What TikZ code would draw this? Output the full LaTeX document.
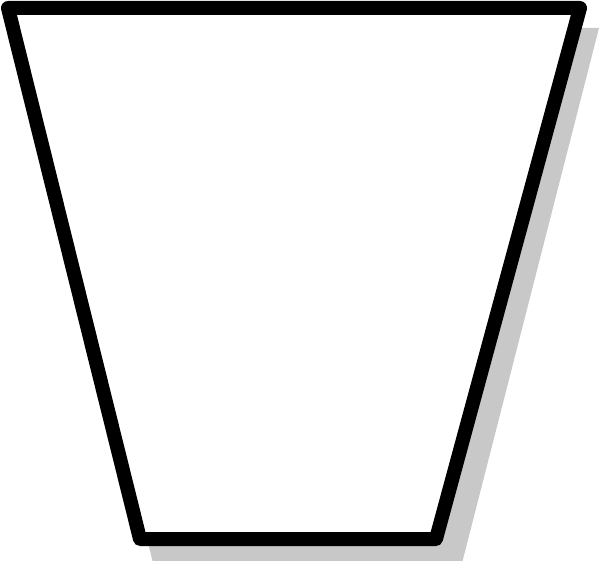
\documentclass[tikz,border=0pt]{standalone}
\definecolor{shadowgray}{RGB}{200,200,200}
\tikzset{
  shadowshape/.style={fill=shadowgray, draw=none},
  mainshape/.style={draw=black, fill=white, line width=14pt, line join=round}
}
\begin{document}
\begin{tikzpicture}[x=1pt,y=-1pt]
\useasboundingbox (0,0) rectangle (600,561);
\begin{scope}
\clip (0,0) rectangle (600,561);
\fill[shadowgray] (21,28) -- (599,28) -- (459.5,573) -- (155.5,573) -- cycle;
\end{scope}
\coordinate (tl) at (8,8);
\coordinate (tr) at (580,8);
\coordinate (br) at (436,539);
\coordinate (bl) at (140,539);
\draw[mainshape] (tl) -- (tr) -- (br) -- (bl) -- cycle;
\end{tikzpicture}
\end{document}
